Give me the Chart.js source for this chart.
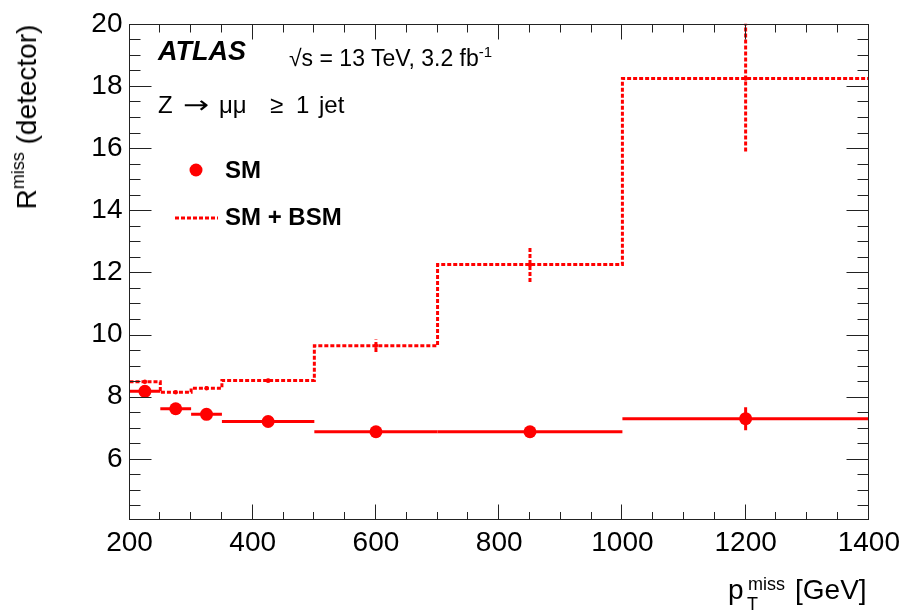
<!DOCTYPE html>
<html><head><meta charset="utf-8">
<script src="https://cdn.jsdelivr.net/npm/chart.js@4.4.1/dist/chart.umd.min.js"></script>
<style>
html,body{margin:0;padding:0;background:#fff;}
#wrap{position:relative;width:906px;height:610px;overflow:hidden;font-family:"Liberation Sans",Arial,Helvetica,sans-serif;color:#000;}
canvas{position:absolute;left:0;top:0;}
.t{position:absolute;white-space:nowrap;line-height:1;}
</style></head><body>
<div id="wrap">
<canvas id="c" width="906" height="610"></canvas>
<div class="t" style="left:158px;top:38px;font-size:27px;font-weight:bold;font-style:italic;">ATLAS</div>
<div class="t" style="left:289px;top:43.7px;font-size:23px;">√s = 13 TeV, 3.2 fb<span style="font-size:15px;vertical-align:9px;">-1</span></div>
<div class="t" style="left:158px;top:92.7px;font-size:24px;">Z</div>
<div class="t" style="left:183px;top:92.7px;font-size:24px;font-family:'DejaVu Sans';transform-origin:0 50%;transform:scaleX(1.3);">→</div>
<div class="t" style="left:219px;top:92.7px;font-size:24px;">μμ</div>
<div class="t" style="left:270px;top:92.7px;font-size:24px;">≥</div>
<div class="t" style="left:296px;top:92.7px;font-size:24px;">1</div>
<div class="t" style="left:319px;top:92.7px;font-size:24px;">jet</div>
<div class="t" style="left:225px;top:157.7px;font-size:24px;font-weight:bold;">SM</div>
<div class="t" style="left:225px;top:204.7px;font-size:24px;font-weight:bold;">SM + BSM</div>
<div class="t" style="left:24.5px;top:116.5px;font-size:28px;transform:translate(-50%,-50%) rotate(-90deg);">R<span style="font-size:18px;vertical-align:12px;">miss</span> (detector)</div>
<div class="t" style="left:728px;top:576.3px;font-size:28px;">p</div>
<div class="t" style="left:748px;top:574.8px;font-size:18px;">miss</div>
<div class="t" style="left:747px;top:595px;font-size:18px;">T</div>
<div class="t" style="left:795px;top:576.3px;font-size:28px;">[GeV]</div>
</div>
<script>
// ---- data ----
const binEdges   = [200, 250, 300, 350, 500, 700, 1000, 1400];
const smValues   = [8.17, 7.61, 7.43, 7.20, 6.87, 6.87, 7.29];
const smErrors   = [0.05, 0.05, 0.05, 0.05, 0.06, 0.08, 0.37];
const bsmValues  = [8.48, 8.14, 8.27, 8.52, 9.64, 12.25, 18.24];
const bsmErrors  = [0.05, 0.05, 0.06, 0.07, 0.20, 0.56, 2.35];
const xTickValues = [200, 400, 600, 800, 1000, 1200, 1400];
const yTickValues = [6, 8, 10, 12, 14, 16, 18, 20];

const RED = '#ff0000';
const centers = binEdges.slice(0, -1).map((e, i) => (e + binEdges[i + 1]) / 2);
const stepData = bsmValues.map((v, i) => ({x: binEdges[i], y: v}))
  .concat([{x: binEdges[binEdges.length - 1], y: bsmValues[bsmValues.length - 1]}]);
const smPoints = centers.map((c, i) => ({x: c, y: smValues[i]}));
const bsmPoints = centers.map((c, i) => ({x: c, y: bsmValues[i]}));

const errorBars = {
  id: 'errorBars',
  beforeDatasetsDraw(chart) {
    const {ctx, chartArea: a, scales: {x, y}} = chart;
    ctx.save();
    ctx.beginPath(); ctx.rect(a.left, a.top, a.right - a.left, a.bottom - a.top); ctx.clip();
    ctx.strokeStyle = RED; ctx.lineWidth = 3; ctx.lineCap = 'butt';
    ctx.setLineDash([4, 2]);
    centers.forEach((c, i) => {
      const px = x.getPixelForValue(c);
      ctx.beginPath();
      ctx.moveTo(px, y.getPixelForValue(bsmValues[i] - bsmErrors[i]));
      ctx.lineTo(px, y.getPixelForValue(bsmValues[i] + bsmErrors[i]));
      ctx.stroke();
    });
    ctx.setLineDash([]);
    centers.forEach((c, i) => {
      const py = y.getPixelForValue(smValues[i]);
      ctx.beginPath();
      ctx.moveTo(x.getPixelForValue(binEdges[i]), py);
      ctx.lineTo(x.getPixelForValue(binEdges[i + 1]), py);
      ctx.stroke();
      const px = x.getPixelForValue(c);
      ctx.beginPath();
      ctx.moveTo(px, y.getPixelForValue(smValues[i] - smErrors[i]));
      ctx.lineTo(px, y.getPixelForValue(smValues[i] + smErrors[i]));
      ctx.stroke();
    });
    ctx.restore();
  }
};

const frameTicks = {
  id: 'frameTicks',
  afterDraw(chart) {
    const {ctx, chartArea: a, scales: {x, y}} = chart;
    ctx.save();
    const L = Math.round(a.left) - 0.5, R = Math.round(a.right) - 0.5;
    const T = Math.round(a.top) + 0.5, B = Math.round(a.bottom) - 0.5;
    ctx.strokeStyle = '#222'; ctx.lineWidth = 1;
    ctx.strokeRect(L, T, R - L, B - T);
    ctx.beginPath();
    for (let v = x.min; v <= x.max + 1e-6; v += 50) {
      const px = Math.round(x.getPixelForValue(v)) - 0.5;
      const major = Math.abs(v % 200) < 1e-6;
      const lb = major ? 15 : 7.5, lt = major ? 15 : 8;
      ctx.moveTo(px, B); ctx.lineTo(px, B - lb);
      ctx.moveTo(px, T); ctx.lineTo(px, T + lt);
    }
    for (let v = 4.5; v <= 20 + 1e-6; v += 0.5) {
      const py = Math.round(y.getPixelForValue(v)) + 0.5;
      const major = Math.abs(v % 2) < 1e-6;
      const len = major ? 22 : 11;
      ctx.moveTo(L, py); ctx.lineTo(L + len, py);
      ctx.moveTo(R, py); ctx.lineTo(R - len, py);
    }
    ctx.stroke();
    // legend symbols
    ctx.fillStyle = RED;
    ctx.beginPath(); ctx.arc(196, 170, 6.5, 0, Math.PI * 2); ctx.fill();
    ctx.strokeStyle = RED; ctx.lineWidth = 3; ctx.setLineDash([4, 2]);
    ctx.beginPath(); ctx.moveTo(175, 218); ctx.lineTo(218, 218); ctx.stroke();
    ctx.restore();
  }
};

new Chart(document.getElementById('c'), {
  type: 'scatter',
  data: {
    datasets: [
      {label: 'SM', data: smPoints, pointRadius: 6.5, pointBackgroundColor: RED,
       pointBorderWidth: 0, showLine: false},
      {label: 'SM + BSM markers', data: bsmPoints, pointRadius: 2.2, pointBackgroundColor: RED,
       pointBorderWidth: 0, showLine: false},
      {label: 'SM + BSM', data: stepData, showLine: true, stepped: true, borderColor: RED,
       borderWidth: 3, borderDash: [4, 2], pointRadius: 0, fill: false}
    ]
  },
  options: {
    responsive: false,
    animation: false,
    layout: {padding: {left: 0, right: 36.5, top: 18, bottom: 0}},
    plugins: {legend: {display: false}, tooltip: {enabled: false}},
    scales: {
      x: {
        type: 'linear', min: 200, max: 1400,
        afterFit(s) { s.height = 90; },
        afterBuildTicks(s) { s.ticks = xTickValues.map(v => ({value: v})); },
        grid: {display: false, drawTicks: false},
        border: {display: false},
        ticks: {padding: 6, color: '#000', maxRotation: 0, callback: v => String(v),
                font: {family: 'Liberation Sans', size: 28}}
      },
      y: {
        type: 'linear', min: 4.03, max: 20,
        afterFit(s) { s.width = 129.5; },
        afterBuildTicks(s) { s.ticks = yTickValues.map(v => ({value: v})); },
        grid: {display: false, drawTicks: false},
        border: {display: false},
        ticks: {padding: 7, color: '#000', callback: v => String(v),
                font: {family: 'Liberation Sans', size: 28}}
      }
    }
  },
  plugins: [errorBars, frameTicks]
});
</script>
</body></html>
